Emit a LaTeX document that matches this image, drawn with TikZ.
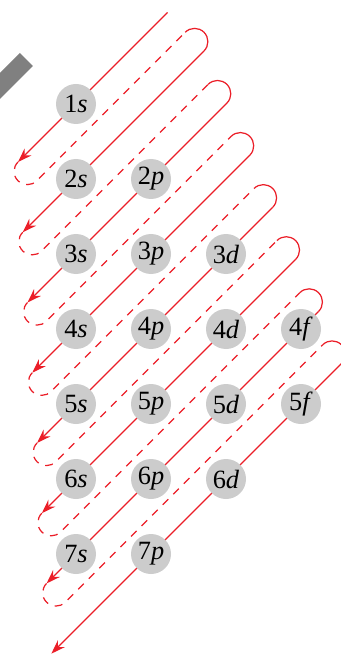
\documentclass[tikz,border=0pt]{standalone}
\usepackage{fontspec}
\setmainfont{Liberation Serif}
\usepackage{tikz}
\usetikzlibrary{arrows.meta}
\definecolor{myred}{RGB}{235,30,40}
\definecolor{mygray}{RGB}{204,204,204}
\definecolor{bargray}{RGB}{128,128,128}
\tikzset{
  orbital/.style={circle, fill=mygray, minimum size=0.8cm, inner sep=0pt,
    font=\fontsize{15}{15}\selectfont},
  fillline/.style={myred, line width=0.7pt},
  emptyline/.style={myred, line width=0.7pt, dash pattern=on 4.5pt off 4pt},
  arrow/.style={-{Stealth[length=8pt,width=5.5pt]}, fillline}
}

\begin{document}
\begin{tikzpicture}
  \useasboundingbox (-1.52,-11.0) rectangle (5.30,2.08);
  \clip (-1.52,-11.0) rectangle (5.30,2.08);

  % Diagonal frame: first coordinate runs along a diagonal, second counts diagonals
  \begin{scope}[x={(0.75cm,0.75cm)}, y={(0.75cm,-0.75cm)}]
    % Gray bar
    \fill[bargray] (-0.067,-1.427) -- (-0.067,-1.08) -- (-3,-1.08) -- (-3,-1.427) -- cycle;

    % Filling order, solid diagonals
    \foreach \m in {1,...,8} {
      \pgfmathsetmacro{\ttop}{\m==1 ? 2.44 : 2.413-0.389*(\m-2)}
      \pgfmathsetmacro{\tbot}{-1.547-0.873*(\m-1)}
      \coordinate (top\m) at (\ttop,\m-1);
      \coordinate (turn\m) at (\ttop,\m-1.5);
      \coordinate (bot\m) at (\tbot,\m-1);
      \draw[arrow] (top\m) -- (bot\m);
    }

    % Return paths
    \foreach \m [evaluate=\m as \n using int(\m+1)] in {1,...,7} {
      \draw[emptyline] (bot\m) arc[start angle=-90, end angle=-270, radius=0.25] -- (turn\n);
      \draw[fillline] (turn\n) arc[start angle=-90, end angle=90, radius=0.25];
    }
  \end{scope}

  % Orbitals
  \foreach \n/\l/\sub in {1/0/s, 2/0/s, 2/1/p, 3/0/s, 3/1/p, 3/2/d,
      4/0/s, 4/1/p, 4/2/d, 4/3/f, 5/0/s, 5/1/p, 5/2/d, 5/3/f,
      6/0/s, 6/1/p, 6/2/d, 7/0/s, 7/1/p}
    \node[orbital] (orb\n\sub) at (1.5*\l, -1.5*\n+1.5) {\n\textit{\sub}};
\end{tikzpicture}
\end{document}
